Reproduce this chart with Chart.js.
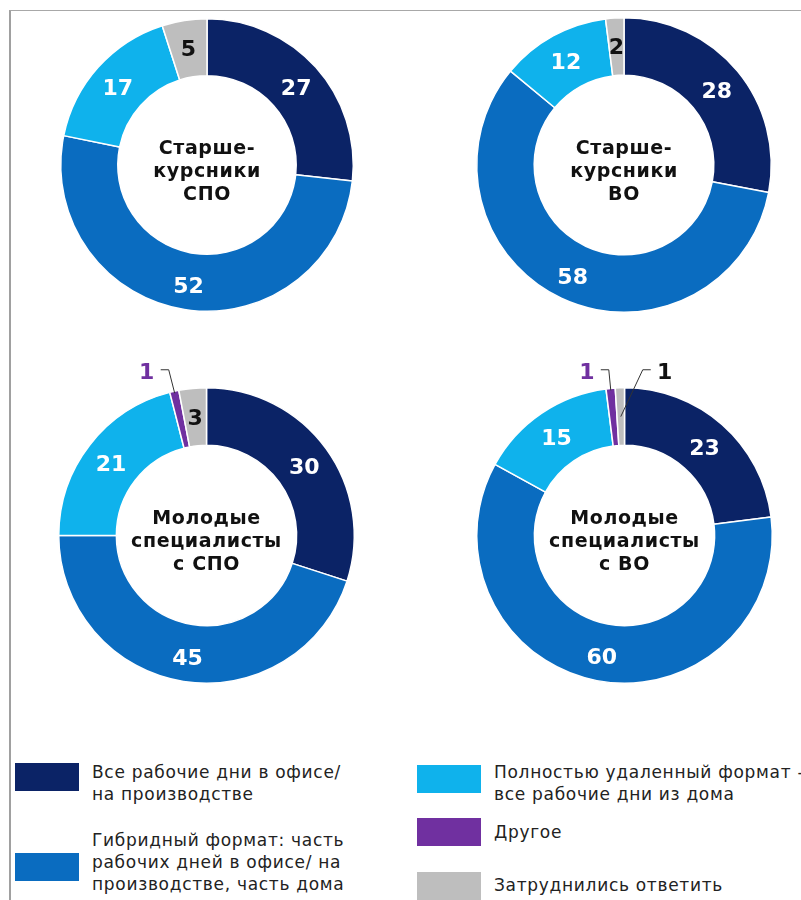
<!DOCTYPE html>
<html>
<head>
<meta charset="utf-8">
<script src="https://cdn.jsdelivr.net/npm/chart.js@4.4.0/dist/chart.umd.min.js"></script>
<style>
  html, body { margin: 0; padding: 0; background: #fff; width: 801px; height: 900px; overflow: hidden; }
  #frame { position: absolute; left: 9px; top: 10px; width: 800px; height: 900px; border-left: 2px solid #a0a0a0; border-top: 1px solid #a8a8a8; }
  .pie { position: absolute; }
  .leg { position: absolute; font-family: "DejaVu Sans", Verdana, sans-serif; font-size: 17px; line-height: 22px; color: #222; letter-spacing: 0.7px; white-space: nowrap; }
  .sw { position: absolute; width: 64px; height: 28px; }
</style>
</head>
<body>
<div id="frame"></div>
<div class="pie" style="left:30px;top:-12px;width:354px;height:354px"><canvas id="c1"></canvas></div>
<div class="pie" style="left:446px;top:-13px;width:356px;height:356px"><canvas id="c2"></canvas></div>
<div class="pie" style="left:28px;top:357px;width:357px;height:357px"><canvas id="c3"></canvas></div>
<div class="pie" style="left:446px;top:357px;width:357px;height:357px"><canvas id="c4"></canvas></div>
<div id="legend"></div>
<script>
const categories = [
  'Все рабочие дни в офисе/\nна производстве',
  'Гибридный формат: часть\nрабочих дней в офисе/ на\nпроизводстве, часть дома',
  'Полностью удаленный формат -\nвсе рабочие дни из дома',
  'Другое',
  'Затруднились ответить'
]
const colors = ['#0b2366', '#0a6cc0', '#0fb2ec', '#7030a0', '#bebebe']
const labelColors = ['#ffffff', '#ffffff', '#ffffff', '#7030a0', '#111111']

const groups = [
  ['Старше-', 'курсники', 'СПО'],
  ['Старше-', 'курсники', 'ВО'],
  ['Молодые', 'специалисты', 'с СПО'],
  ['Молодые', 'специалисты', 'с ВО']
]
const seniorSpo = [27, 52, 17, 0, 5]
const seniorVo = [28, 58, 12, 0, 2]
const youngSpo = [30, 45, 21, 1, 3]
const youngVo = [23, 60, 15, 1, 1]

// small slices labelled outside with a leader line
const outside = [
  [],
  [],
  [{ index: 3, dir: -1, at: 'outer', dx: -6 }],
  [{ index: 3, dir: -1, at: 'outer', dx: -2 }, { index: 4, dir: 1, at: 'mid', dx: 22 }]
]

const valueLabels = {
  id: 'valueLabels',
  afterDatasetsDraw(chart, args, opts) {
    const ctx = chart.ctx
    const meta = chart.getDatasetMeta(0)
    const values = chart.data.datasets[0].data
    const outs = opts.outside || []
    ctx.save()
    ctx.textAlign = 'center'
    ctx.textBaseline = 'middle'
    meta.data.forEach(function(arc, i) {
      if (!values[i]) return
      const p = arc.getProps(['x', 'y', 'startAngle', 'endAngle', 'innerRadius', 'outerRadius'], true)
      const a = (p.startAngle + p.endAngle) / 2
      const out = outs.find(function(o) { return o.index == i })
      ctx.font = 'bold 22px "DejaVu Sans", Verdana, sans-serif'
      if (out) {
        const r = out.at == 'outer' ? p.outerRadius - 2 : (p.innerRadius + p.outerRadius) / 2
        const ex = p.x + Math.cos(a) * r
        const ey = p.y + Math.sin(a) * r
        const ky = p.y - p.outerRadius - 18
        const kx = ex + out.dx
        const hx = kx + out.dir * 8
        ctx.strokeStyle = '#333'
        ctx.lineWidth = 1
        ctx.beginPath()
        ctx.moveTo(ex, ey)
        ctx.lineTo(kx, ky)
        ctx.lineTo(hx, ky)
        ctx.stroke()
        ctx.fillStyle = labelColors[i]
        ctx.fillText(values[i], hx + out.dir * 14, ky + 4)
      } else {
        const r = (p.innerRadius + p.outerRadius) / 2 + 2
        ctx.fillStyle = labelColors[i]
        ctx.fillText(values[i], p.x + Math.cos(a) * r, p.y + Math.sin(a) * r + 4)
      }
    })
    // title in the hole
    const c = meta.data[0]
    ctx.fillStyle = '#111'
    ctx.font = 'bold 19px "DejaVu Sans", Verdana, sans-serif'
    ctx.letterSpacing = '0.6px'
    const lines = opts.title || []
    lines.forEach(function(t, k) {
      ctx.fillText(t, c.x, c.y + 7 + (k - (lines.length - 1) / 2) * 23)
    })
    ctx.restore()
  }
}

function makeChart(id, values, title, outs) {
  var ctx = document.getElementById(id)
  new Chart(ctx, {
    type: 'doughnut',
    data: {
      labels: categories,
      datasets: [
        {
          data: values,
          backgroundColor: colors,
          borderColor: '#ffffff',
          borderWidth: 1.5
        }
      ]
    },
    options: {
      responsive: true,
      maintainAspectRatio: false,
      animation: false,
      cutout: '61%',
      layout: { padding: 30 },
      plugins: {
        legend: { display: false },
        tooltip: { enabled: false },
        valueLabels: { title: title, outside: outs }
      }
    },
    plugins: [valueLabels]
  })
}

makeChart('c1', seniorSpo, groups[0], outside[0])
makeChart('c2', seniorVo, groups[1], outside[1])
makeChart('c3', youngSpo, groups[2], outside[2])
makeChart('c4', youngVo, groups[3], outside[3])

// legend
var legendPos = [
  { x: 15, y: 763, tx: 92, ty: 761 },
  { x: 15, y: 853, tx: 92, ty: 829 },
  { x: 417, y: 765, tx: 494, ty: 761 },
  { x: 417, y: 818, tx: 494, ty: 821 },
  { x: 417, y: 872, tx: 494, ty: 874 }
]
var legend = document.getElementById('legend')
for (i = 0; i < categories.length; i++) {
  var sw = document.createElement('div')
  sw.className = 'sw'
  sw.style.left = legendPos[i].x + 'px'
  sw.style.top = legendPos[i].y + 'px'
  sw.style.background = colors[i]
  legend.appendChild(sw)
  var t = document.createElement('div')
  t.className = 'leg'
  t.style.left = legendPos[i].tx + 'px'
  t.style.top = legendPos[i].ty + 'px'
  t.innerHTML = categories[i].split('\n').join('<br>')
  legend.appendChild(t)
}
</script>
</body>
</html>
